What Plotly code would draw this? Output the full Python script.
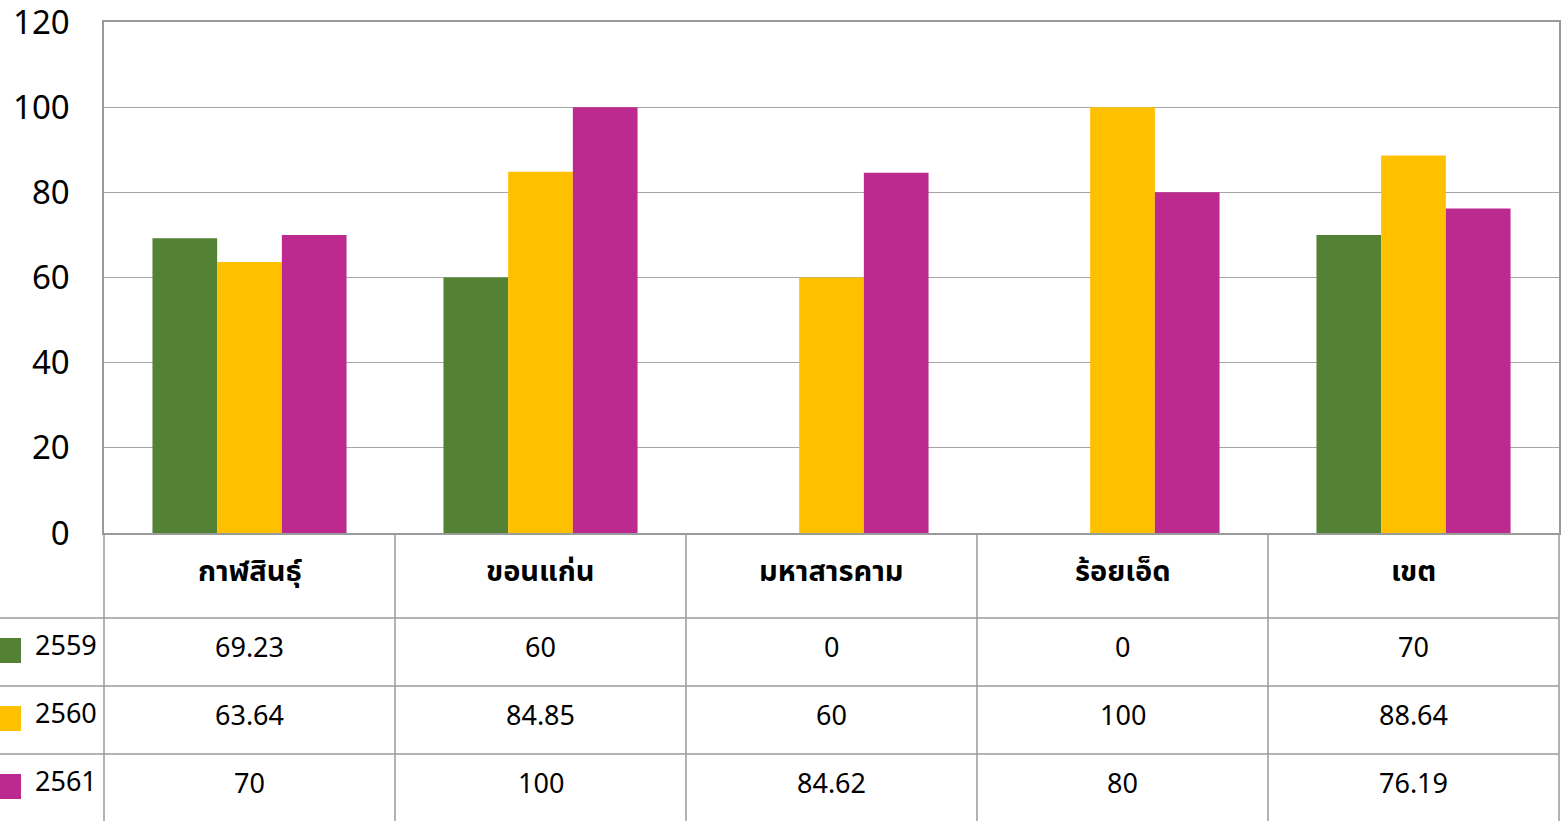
import plotly.graph_objects as go

categories = ["กาฬสินธุ์", "ขอนแก่น", "มหาสารคาม", "ร้อยเอ็ด", "เขต"]
series_names = ["2559", "2560", "2561"]
values_2559 = [69.23, 60, 0, 0, 70]
values_2560 = [63.64, 84.85, 60, 100, 88.64]
values_2561 = [70, 100, 84.62, 80, 76.19]
colors = ["#548235", "#FFC000", "#BC2A8F"]
y_ticks = [0, 20, 40, 60, 80, 100, 120]

series_values = [values_2559, values_2560, values_2561]

W, H = 1561, 821
ML, MR, MT, MB = 104, 2, 22, 0
plot_w = W - ML - MR
plot_h = H - MT - MB
FONT = "Noto Sans Thai, Tahoma, Leelawadee UI, Noto Sans, DejaVu Sans, sans-serif"


def py(pix):
    return (H - MB - pix) / plot_h


def px(pix):
    return (pix - ML) / plot_w


axis_bottom_pix = 533
row_lines_pix = [618, 686, 754]
fig = go.Figure()
for name, vals, col in zip(series_names, series_values, colors):
    fig.add_trace(go.Bar(x=categories, y=vals, name=name, marker=dict(color=col, line=dict(width=0))))

shapes = []
annotations = []
line_col = "#9a9a9a"
n = len(categories)
# vertical table lines
for k in range(n + 1):
    shapes.append(dict(type="line", xref="paper", yref="paper", x0=k / n, x1=k / n,
                       y0=py(H), y1=py(axis_bottom_pix), line=dict(color=line_col, width=1.5)))
# horizontal table lines
for r in row_lines_pix:
    shapes.append(dict(type="line", xref="paper", yref="paper", x0=px(0), x1=1,
                       y0=py(r), y1=py(r), line=dict(color=line_col, width=1.5)))
# category labels
for k, c in enumerate(categories):
    annotations.append(dict(x=(k + 0.5) / n, y=py(572), xref="paper", yref="paper", text="<b>" + c + "</b>",
                            showarrow=False, font=dict(family=FONT, size=29, color="black"),
                            xanchor="center", yanchor="middle"))
row_centers = [648, 716, 784]
for i, (name, vals, col) in enumerate(zip(series_names, series_values, colors)):
    yc = row_centers[i]
    shapes.append(dict(type="rect", xref="paper", yref="paper", x0=px(0), x1=px(21),
                       y0=py(yc + 15), y1=py(yc - 10), fillcolor=col, line=dict(width=0)))
    annotations.append(dict(x=px(33), y=py(yc - 2), xref="paper", yref="paper", text=name,
                            showarrow=False, font=dict(family=FONT, size=27, color="black"),
                            xanchor="left", yanchor="middle"))
    for k, v in enumerate(vals):
        annotations.append(dict(x=(k + 0.5) / n, y=py(yc), xref="paper", yref="paper", text=f"{v:g}",
                                showarrow=False, font=dict(family=FONT, size=27, color="black"),
                                xanchor="center", yanchor="middle"))

fig.update_layout(
    width=W, height=H, autosize=False,
    margin=dict(l=ML, r=MR, t=MT, b=MB, autoexpand=False),
    paper_bgcolor="white", plot_bgcolor="white",
    barmode="group", bargap=0.333, bargroupgap=0,
    showlegend=False,
    shapes=shapes, annotations=annotations,
    font=dict(family=FONT, color="black"),
)
fig.update_xaxes(showticklabels=False, showline=True, mirror=True, linecolor=line_col, linewidth=1.5,
                 showgrid=False, ticks="", automargin=False)
fig.update_yaxes(domain=[py(axis_bottom_pix), 1], range=[0, 120], tickvals=y_ticks,
                 showline=True, mirror=True, linecolor=line_col, linewidth=1.5,
                 showgrid=True, gridcolor="#a6a6a6", gridwidth=1, zeroline=False,
                 tickfont=dict(family=FONT, size=33, color="black"), ticklabelstandoff=26, ticks="",
                 ticklabeloverflow="allow", automargin=False)

fig.write_html("out.html", config={"responsive": False, "displayModeBar": False},
               post_script="document.body.style.margin='0';document.body.style.overflow='hidden';")
